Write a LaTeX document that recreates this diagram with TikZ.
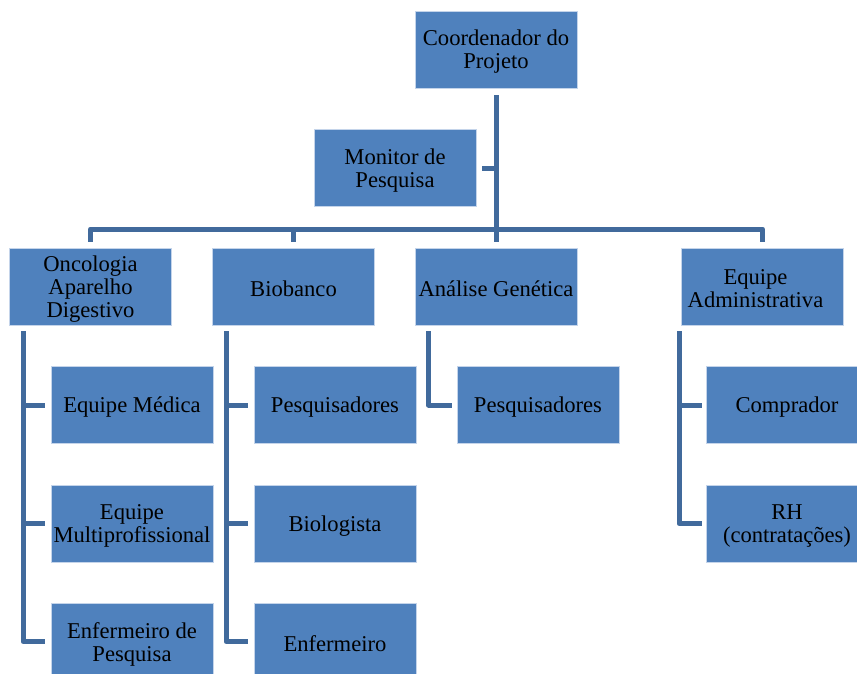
\documentclass[tikz,border=0pt]{standalone}
\usepackage{fontspec}
\setmainfont{Liberation Serif}
\definecolor{boxfill}{RGB}{79,129,189}
\definecolor{linkline}{RGB}{65,106,156}
\definecolor{boxedge}{RGB}{196,212,234}

\begin{document}
\begin{tikzpicture}[x=1pt,y=-1pt,
  unitbox/.style={draw=boxedge, line width=0.8pt, fill=boxfill,
    minimum width=162pt, minimum height=77pt, inner sep=0pt},
  unit/.style={unitbox, label={[boxtext]center:#1}},
  boxtext/.style={anchor=center, yshift=-2.5pt, align=center, text=black,
    inner sep=0pt, font=\fontsize{22.6}{23}\selectfont},
  link/.style={draw=linkline, line width=5pt, line join=round}]
\useasboundingbox (0,0) rectangle (857,673);
\begin{scope}
\clip (0,0) rectangle (857,673);

% top of the chart
\node[unit={Coordenador do\\Projeto}] (coord) at (496,49.5) {};
\node[unit={Monitor de\\Pesquisa}]    (mon)   at (395,168)  {};

% departments
\node[unit={Oncologia\\Aparelho\\Digestivo}] (onco) at (90.5,286.5) {};
\node[unit={Biobanco}]                       (bio)  at (293.5,286.5) {};
\node[unit={Análise Genética}]               (gen)  at (496,286.5) {};
\node[unitbox, label={[boxtext, xshift=-7pt]center:{Equipe\\Administrativa}}]
                                             (adm)  at (762.5,286.5) {};

% teams
\node[unit={Equipe Médica}]               (med)   at (132,405)   {};
\node[unit={Equipe\\Multiprofissional}]   (multi) at (132,523.5) {};
\node[unit={Enfermeiro de\\Pesquisa}]     (enfp)  at (132,641.5) {};

\node[unit={Pesquisadores}] (pesqb) at (335,405)   {};
\node[unit={Biologista}]    (biol)  at (335,523.5) {};
\node[unit={Enfermeiro}]    (enf)   at (335,641.5) {};

\node[unit={Pesquisadores}] (pesqg) at (538,405)   {};

\node[unit={Comprador}]            (comp) at (787,405)   {};
\node[unit={RH\\(contratações)}]   (rh)   at (787,523.5) {};

% main trunk and bus
\coordinate (bus) at (496,229);
\draw[link] ([yshift=-7pt]coord.south) -- ([yshift=6pt]gen.north);
\draw[link] ([xshift=6pt]mon.east) -- (mon.east -| coord.south);
\draw[link] ([yshift=6pt]onco.north) |- (bus) -| ([yshift=6pt]adm.north);
\draw[link] ([yshift=6pt]bio.north) -- (bio.north |- bus);

% spines under each department
\coordinate (sonco) at ([xshift=14pt]onco.south west);
\coordinate (sbio)  at ([xshift=14pt]bio.south west);
\coordinate (sgen)  at ([xshift=14pt]gen.south west);
\coordinate (sadm)  at ([xshift=-2pt]adm.south west);

\draw[link] ([yshift=-6pt]sonco) |- ([xshift=-6pt]enfp.west);
\draw[link] ([xshift=-6pt]med.west) -- (med.west -| sonco);
\draw[link] ([xshift=-6pt]multi.west) -- (multi.west -| sonco);

\draw[link] ([yshift=-6pt]sbio) |- ([xshift=-6pt]enf.west);
\draw[link] ([xshift=-6pt]pesqb.west) -- (pesqb.west -| sbio);
\draw[link] ([xshift=-6pt]biol.west) -- (biol.west -| sbio);

\draw[link] ([yshift=-6pt]sgen) |- ([xshift=-5pt]pesqg.west);

\draw[link] ([yshift=-6pt]sadm) |- ([xshift=-4pt]rh.west);
\draw[link] ([xshift=-4pt]comp.west) -- (comp.west -| sadm);
\end{scope}
\end{tikzpicture}
\end{document}
